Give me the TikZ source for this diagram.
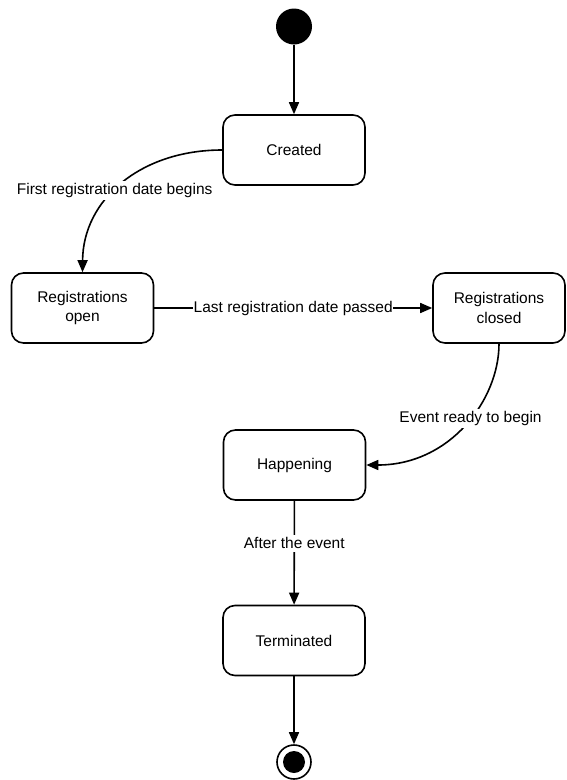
\documentclass[tikz,border=0pt]{standalone}
\usepackage{fontspec}
\setmainfont{Liberation Sans}
\usetikzlibrary{arrows.meta}
\begin{document}
\begin{tikzpicture}[x=1pt,y=-1pt,
  txt/.style={font=\fontsize{15.5}{19.5}\selectfont},
  state/.style={txt, draw, line width=1.6pt, rounded corners=12pt,
    minimum width=142pt, minimum height=70pt, align=center, inner sep=0pt},
  trans/.style={line width=1.6pt, -{Triangle[length=12pt,width=10pt]}},
  lbl/.style={txt, fill=white, inner xsep=0.5pt, inner ysep=2.5pt},
  initial/.style={circle, fill=black, minimum size=36pt, inner sep=0pt},
  finalring/.style={circle, draw, line width=1.6pt, minimum size=34pt, inner sep=0pt},
  finaldot/.style={circle, fill=black, minimum size=22pt, inner sep=0pt},
]
\useasboundingbox (0,0) rectangle (566,780);

% states
\node[initial] (init) at (294,26.5) {};
\node[state] (created) at (294,150) {Created};
\node[state] (ropen) at (82.5,308) {Registrations\\open};
\node[state, minimum width=132pt] (rclosed) at (499,308) {Registrations\\closed};
\node[state] (happening) at (294.5,465) {Happening};
\node[state] (terminated) at (294,640.5) {Terminated};
\node[finalring] (final) at (294,762) {};
\node[finaldot] (finalcore) at (final.center) {};

% transitions
\draw[trans] (init) -- (created);
\draw[trans] (created.west) .. controls (140,150) and (83,200) .. (ropen.north)
  node[lbl, pos=0.55] {First registration date begins};
\draw[trans] (ropen) -- node[lbl] {Last registration date passed} (rclosed);
\draw[trans] (rclosed.south) .. controls (499,400) and (450,465) .. (happening.east)
  node[lbl, pos=0.45] {Event ready to begin};
\draw[trans] (happening) -- node[lbl, pos=0.41] {After the event} (terminated);
\draw[trans] (terminated) -- (final);
\end{tikzpicture}
\end{document}
